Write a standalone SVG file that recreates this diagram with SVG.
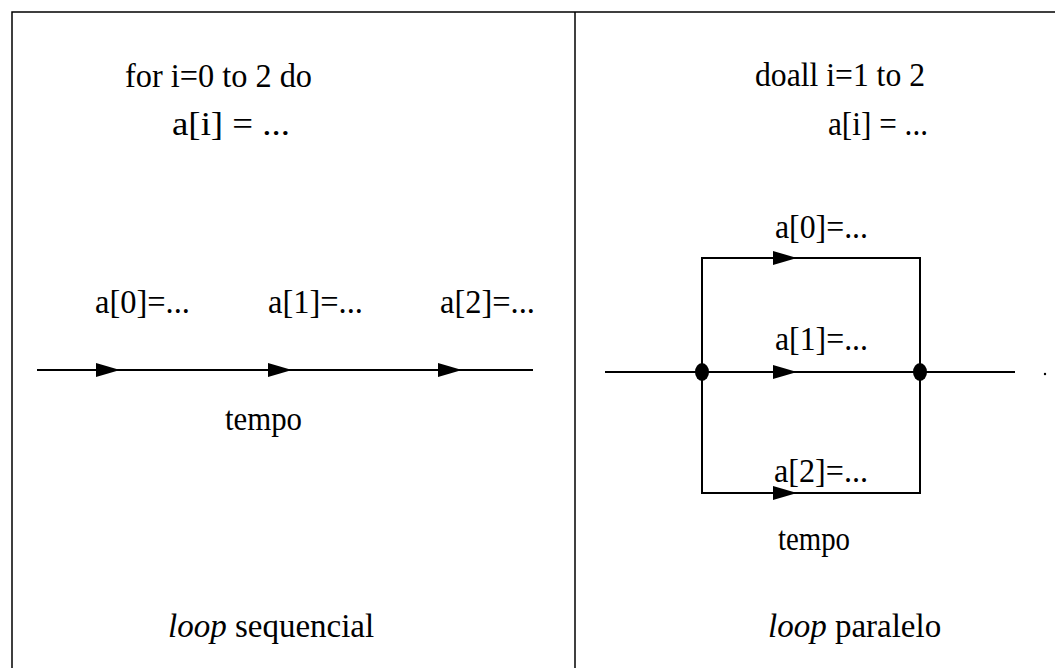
<svg xmlns="http://www.w3.org/2000/svg" width="1055" height="668" viewBox="0 0 1055 668">
<style>
text{font-family:"Liberation Serif","Times New Roman",serif;fill:#000;font-size:33px}
.ln{stroke:#000;stroke-width:2;fill:none}
.fr{stroke:#000;stroke-width:1.5;fill:none}
</style>
<defs>
<marker id="ah" viewBox="0 0 24 14" refX="24" refY="7" markerWidth="24" markerHeight="14" markerUnits="userSpaceOnUse" orient="auto">
<path d="M0,0 L24,7 L0,14 Z" fill="#000"/>
</marker>
</defs>
<rect width="1055" height="668" fill="#fff"/>
<g id="frame">
<path class="fr" d="M12,668 V12 H1055"/>
<path class="fr" d="M575,12 V668"/>
</g>
<g id="left-panel">
<text x="125" y="87" textLength="187" lengthAdjust="spacingAndGlyphs">for i=0 to 2 do</text>
<text x="172" y="135" textLength="118" lengthAdjust="spacingAndGlyphs">a[i] = ...</text>
<text x="95" y="313" textLength="95" lengthAdjust="spacingAndGlyphs">a[0]=...</text>
<text x="268" y="313" textLength="95" lengthAdjust="spacingAndGlyphs">a[1]=...</text>
<text x="440" y="313" textLength="95" lengthAdjust="spacingAndGlyphs">a[2]=...</text>
<text x="225" y="430" font-size="36" textLength="77" lengthAdjust="spacingAndGlyphs">tempo</text>
<text x="168" y="637" font-size="32"><tspan font-style="italic">loop</tspan> sequencial</text>
</g>
<g id="right-panel">
<text x="755" y="86" textLength="170" lengthAdjust="spacingAndGlyphs">doall i=1 to 2</text>
<text x="828" y="135" textLength="100" lengthAdjust="spacingAndGlyphs">a[i] = ...</text>
<text x="775" y="238" textLength="93" lengthAdjust="spacingAndGlyphs">a[0]=...</text>
<text x="775" y="350" font-size="40" textLength="93" lengthAdjust="spacingAndGlyphs">a[1]=...</text>
<text x="774" y="482" textLength="94" lengthAdjust="spacingAndGlyphs">a[2]=...</text>
<text x="778" y="550" font-size="34" textLength="72" lengthAdjust="spacingAndGlyphs">tempo</text>
<text x="768" y="637" font-size="32"><tspan font-style="italic">loop</tspan> paralelo</text>
</g>
<g id="connectors">
<path class="ln" d="M37,370 H533"/>
<path class="ln" d="M37,370 H120" marker-end="url(#ah)"/>
<path class="ln" d="M120,370 H292" marker-end="url(#ah)"/>
<path class="ln" d="M292,370 H462" marker-end="url(#ah)"/>
<path class="ln" d="M605,372 H1015"/>
<path class="ln" d="M702,372 V258 H920 V372"/>
<path class="ln" d="M702,372 V493 H920 V372"/>
<path class="ln" d="M702,258 H797" marker-end="url(#ah)"/>
<path class="ln" d="M702,372 H797" marker-end="url(#ah)"/>
<path class="ln" d="M702,493 H797" marker-end="url(#ah)"/>
<ellipse cx="702" cy="372" rx="7" ry="9" fill="#000"/>
<ellipse cx="920" cy="372" rx="7" ry="9" fill="#000"/>
<circle cx="1045" cy="374" r="1.2" fill="#000"/>
</g>
</svg>
